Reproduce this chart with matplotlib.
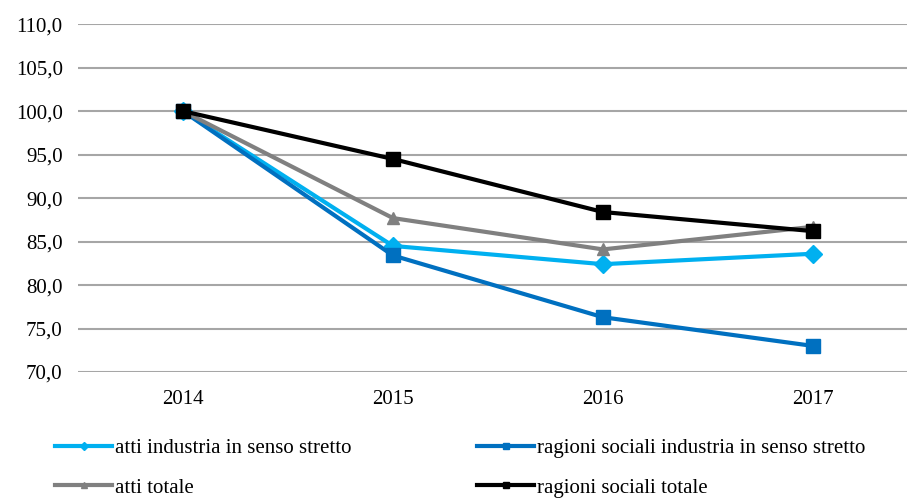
import matplotlib
matplotlib.use("Agg")
import matplotlib.pyplot as plt

years = ["2014", "2015", "2016", "2017"]
atti_industria = [100.0, 84.5, 82.4, 83.6]
ragioni_industria = [100.0, 83.4, 76.3, 73.0]
atti_totale = [100.0, 87.7, 84.1, 86.7]
ragioni_totale = [100.0, 94.5, 88.4, 86.2]
yticks = [70, 75, 80, 85, 90, 95, 100, 105, 110]

plt.rcParams['font.family'] = ['Liberation Serif', 'DejaVu Serif']

fig = plt.figure(figsize=(9.07, 4.99), dpi=100)
ax = fig.add_axes([0.086, 0.2545, 0.926, 0.697])
x = list(range(len(years)))

series = [
    (atti_industria, "atti industria in senso stretto", "#00B0F0", "D", 9),
    (ragioni_industria, "ragioni sociali industria in senso stretto", "#0070C0", "s", 10),
    (atti_totale, "atti totale", "#808080", "^", 9),
    (ragioni_totale, "ragioni sociali totale", "#000000", "s", 10),
]
handles = {}
for vals, lab, col, mk, ms in series:
    h, = ax.plot(x, vals, color=col, lw=3, marker=mk, markersize=ms, label=lab, zorder=3)
    handles[lab] = h

ax.set_xlim(-0.5, 3.5)
ax.set_ylim(70, 110)
ax.set_yticks(yticks)
ax.set_yticklabels([f"{v:.1f}".replace(".", ",") for v in yticks], fontsize=15)
ax.set_xticks(x)
ax.set_xticklabels(years, fontsize=15)
ax.tick_params(axis="y", length=0, pad=11)
ax.tick_params(axis="x", length=0, pad=13)
ax.yaxis.grid(True, color="#A6A6A6", lw=1.5)
ax.set_axisbelow(True)
for s in ax.spines.values():
    s.set_visible(False)

order = ["atti industria in senso stretto", "atti totale",
         "ragioni sociali industria in senso stretto", "ragioni sociali totale"]
leg = fig.legend([handles[k] for k in order], order, loc="upper left",
                 bbox_to_anchor=(0.0606, 0.121), ncol=2, borderpad=0, borderaxespad=0,
                 frameon=False, fontsize=15, handlelength=2.75, markerscale=0.45,
                 columnspacing=6.0, labelspacing=0.95, handletextpad=0.15)

fig.savefig("out.png", dpi=100)
